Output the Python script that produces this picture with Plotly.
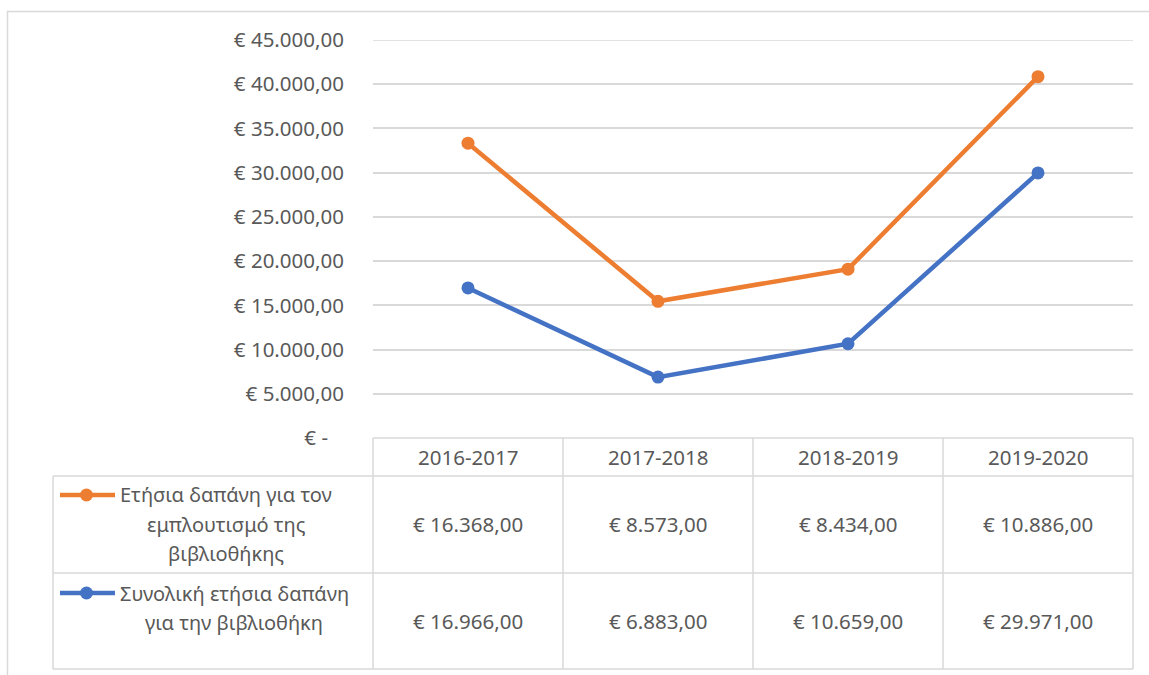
import plotly.graph_objects as go

W, H = 1149, 675

categories = ["2016-2017", "2017-2018", "2018-2019", "2019-2020"]
enrichment = [16368, 8573, 8434, 10886]      # Ετήσια δαπάνη για τον εμπλουτισμό της βιβλιοθήκης
total = [16966, 6883, 10659, 29971]          # Συνολική ετήσια δαπάνη για την βιβλιοθήκη
y_ticks = [0, 5000, 10000, 15000, 20000, 25000, 30000, 35000, 40000, 45000]

name_orange = ["Ετήσια δαπάνη για τον", "εμπλουτισμό της", "βιβλιοθήκης"]
name_blue = ["Συνολική ετήσια δαπάνη", "για την βιβλιοθήκη"]

ORANGE = "#ED7D31"
BLUE = "#4472C4"
GRID = "#D9D9D9"
TXT = "#595959"
FONT = "Noto Sans"
FS = 20.5
FS_LEG = 20


def eur(v):
    if v == 0:
        return "€ -\u00a0\u00a0\u00a0"
    s = f"{v:,.2f}".replace(",", "X").replace(".", ",").replace("X", ".")
    return "€ " + s


# stacked line (Excel "stacked line" type)
stacked = [a + b for a, b in zip(total, enrichment)]

def px(x):
    return x / W

def py(y):
    return 1 - y / H

PL, PR, PT, PB = 373, 1133, 40, 438

fig = go.Figure()
fig.add_trace(go.Scatter(x=categories, y=total, mode="lines+markers",
                         line=dict(color=BLUE, width=4.5),
                         marker=dict(size=13, color=BLUE), showlegend=False))
fig.add_trace(go.Scatter(x=categories, y=stacked, mode="lines+markers",
                         line=dict(color=ORANGE, width=4.5),
                         marker=dict(size=13, color=ORANGE), showlegend=False))

shapes = []
ann = []
# outer chart border
shapes.append(dict(type="rect", xref="paper", yref="paper",
                   x0=px(7.5), x1=1.02, y0=py(11.5), y1=-0.02,
                   line=dict(color=GRID, width=1.5)))
# top gridline at the axis maximum
shapes.append(dict(type="line", xref="paper", yref="y", x0=px(PL), x1=px(PR),
                   y0=y_ticks[-1], y1=y_ticks[-1], line=dict(color=GRID, width=1.5), layer="below"))

# table grid
rows = [PB, 476, 573, 669]
cols = [PL + i * (PR - PL) / len(categories) for i in range(len(categories) + 1)]
LEFT = 53
line_style = dict(color=GRID, width=1.5)
shapes.append(dict(type="line", xref="paper", yref="paper", x0=px(PL), x1=px(PR),
                   y0=py(rows[0]), y1=py(rows[0]), line=line_style))
for r in rows[1:]:
    shapes.append(dict(type="line", xref="paper", yref="paper", x0=px(LEFT), x1=px(PR),
                       y0=py(r), y1=py(r), line=line_style))
for c in cols:
    shapes.append(dict(type="line", xref="paper", yref="paper", x0=px(c), x1=px(c),
                       y0=py(rows[0]), y1=py(rows[-1]), line=line_style))
shapes.append(dict(type="line", xref="paper", yref="paper", x0=px(LEFT), x1=px(LEFT),
                   y0=py(rows[1]), y1=py(rows[-1]), line=line_style))

font = dict(family=FONT, size=FS, color=TXT)
font_leg = dict(family=FONT, size=FS_LEG, color=TXT)
for i, cat in enumerate(categories):
    cx = (cols[i] + cols[i + 1]) / 2
    ann.append(dict(x=px(cx), y=py(457), xref="paper", yref="paper", text=cat,
                    showarrow=False, font=font, xanchor="center", yanchor="middle"))
    ann.append(dict(x=px(cx), y=py(524), xref="paper", yref="paper", text=eur(enrichment[i]),
                    showarrow=False, font=font, xanchor="center", yanchor="middle"))
    ann.append(dict(x=px(cx), y=py(621), xref="paper", yref="paper", text=eur(total[i]),
                    showarrow=False, font=font, xanchor="center", yanchor="middle"))

# legend cells (one annotation per line, Excel line spacing)
for lines, y0, cxl in [(name_orange, 495, 226), (name_blue, 593, 234)]:
    for k, t in enumerate(lines):
        ann.append(dict(x=px(cxl), y=py(y0 + 29 * k), xref="paper", yref="paper", text=t,
                        showarrow=False, font=font_leg, xanchor="center", yanchor="middle"))
for col, yk in [(ORANGE, 495), (BLUE, 593)]:
    shapes.append(dict(type="line", xref="paper", yref="paper", x0=px(60), x1=px(115),
                       y0=py(yk), y1=py(yk), line=dict(color=col, width=4.5)))
    shapes.append(dict(type="circle", xref="paper", yref="paper", x0=px(80), x1=px(93),
                       y0=py(yk - 6.5), y1=py(yk + 6.5), fillcolor=col, line=dict(color=col, width=0)))

fig.update_layout(
    width=W, height=H, margin=dict(l=0, r=0, t=0, b=0, autoexpand=False),
    paper_bgcolor="white", plot_bgcolor="white",
    font=font, shapes=shapes, annotations=ann,
    xaxis=dict(domain=[px(PL), px(PR)], range=[-0.5, len(categories) - 0.5],
               showticklabels=False, showgrid=False, zeroline=False, showline=False,
               type="category", automargin=False),
    yaxis=dict(domain=[py(PB), py(PT)], range=[0, 45000], tickvals=y_ticks,
               ticktext=[eur(v) for v in y_ticks], showgrid=True, gridcolor=GRID,
               gridwidth=1.5, zeroline=False, showline=False, ticklabelstandoff=28,
               tickfont=font, automargin=False),
)

fig.write_html("out.html")
